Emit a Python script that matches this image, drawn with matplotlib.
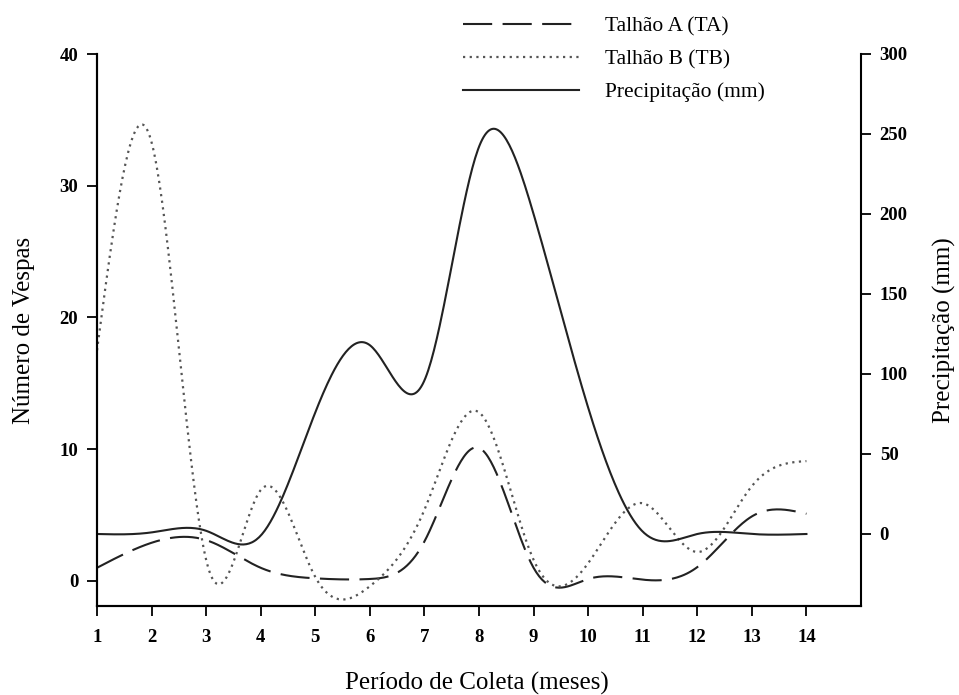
import matplotlib
matplotlib.use('Agg')
import matplotlib.pyplot as plt
import numpy as np

plt.rcParams['font.family'] = ['Liberation Serif', 'DejaVu Serif']

meses = [1, 2, 3, 4, 5, 6, 7, 8, 9, 10, 11, 12, 13, 14]
talhao_a = [1.0, 2.9, 3.1, 1.0, 0.2, 0.15, 3.0, 10.1, 1.0, 0.15, 0.1, 1.05, 4.9, 5.1]
talhao_b = [17.5, 33.3, 1.6, 6.9, 0.3, -0.4, 5.4, 12.8, 1.6, 1.35, 5.9, 2.2, 7.2, 9.1]
precip = [0, 1, 2, -1, 76, 118, 96, 242, 200, 79, 1.5, 0, 0, 0]


def spline(x, y, n=500):
    # natural cubic spline, like the smoothed lines of the original
    x = np.asarray(x, float)
    y = np.asarray(y, float)
    k = len(x)
    h = np.diff(x)
    A = np.zeros((k, k))
    b = np.zeros(k)
    A[0, 0] = A[-1, -1] = 1
    for i in range(1, k - 1):
        A[i, i - 1] = h[i - 1]
        A[i, i] = 2 * (h[i - 1] + h[i])
        A[i, i + 1] = h[i]
        b[i] = 3 * ((y[i + 1] - y[i]) / h[i] - (y[i] - y[i - 1]) / h[i - 1])
    c = np.linalg.solve(A, b)
    bb = (y[1:] - y[:-1]) / h - h * (2 * c[:-1] + c[1:]) / 3
    d = (c[1:] - c[:-1]) / (3 * h)
    xs = np.linspace(x[0], x[-1], n)
    idx = np.clip(np.searchsorted(x, xs) - 1, 0, k - 2)
    t = xs - x[idx]
    ys = y[idx] + bb[idx] * t + c[idx] * t ** 2 + d[idx] * t ** 3
    return xs, ys


fig = plt.figure(figsize=(9.59, 6.95), dpi=100)
ax = fig.add_axes([97 / 959, 1 - 606 / 695, (861 - 97) / 959, (606 - 54) / 695])
ax2 = ax.twinx()

xa, ya = spline(meses, talhao_a)
xb, yb = spline(meses, talhao_b)
xp, yp = spline(meses, precip)

la, = ax.plot(xa, ya, color='#222222', lw=1.5, dashes=(14, 5), label='Talhão A (TA)')
lb, = ax.plot(xb, yb, color='#555555', lw=1.6, linestyle=(0, (1, 2)), label='Talhão B (TB)')
lp, = ax2.plot(xp, yp, color='#222222', lw=1.5, label='Precipitação (mm)')

ax.set_xlim(1, 15)
ax.set_ylim(-1.9, 40)
ax2.set_ylim(-45, 300)
ax.set_xticks(meses)
ax.set_yticks([0, 10, 20, 30, 40])
ax2.set_yticks([0, 50, 100, 150, 200, 250, 300])

for a in (ax, ax2):
    a.spines['top'].set_visible(False)
    a.tick_params(direction='out', length=7.5, width=1.3, labelsize=13.5, pad=6)
    for s in a.spines.values():
        s.set_linewidth(1.5)
    for lab in a.get_xticklabels() + a.get_yticklabels():
        lab.set_fontweight('bold')
ax.tick_params(axis='x', pad=9)
ax.spines['right'].set_visible(False)
ax.spines['left'].set_bounds(-1.9, 40)
ax2.spines['right'].set_bounds(-45, 300)

fig.text(477 / 959, 1 - 683 / 695, 'Período de Coleta (meses)', fontsize=18,
         ha='center', va='center')
fig.text(24 / 959, 1 - 330 / 695, 'Número de Vespas', fontsize=18,
         ha='center', va='center', rotation=90)
fig.text(944 / 959, 1 - 330 / 695, 'Precipitação (mm)', fontsize=18,
         ha='center', va='center', rotation=90)

fig.legend(handles=[la, lb, lp], loc='upper left', bbox_to_anchor=(463 / 959, 1 - 16 / 695),
           frameon=False, fontsize=15.5, handlelength=5.4, handletextpad=1.2,
           labelspacing=0.6, borderpad=0, borderaxespad=0)

fig.savefig('out.png', dpi=100)
